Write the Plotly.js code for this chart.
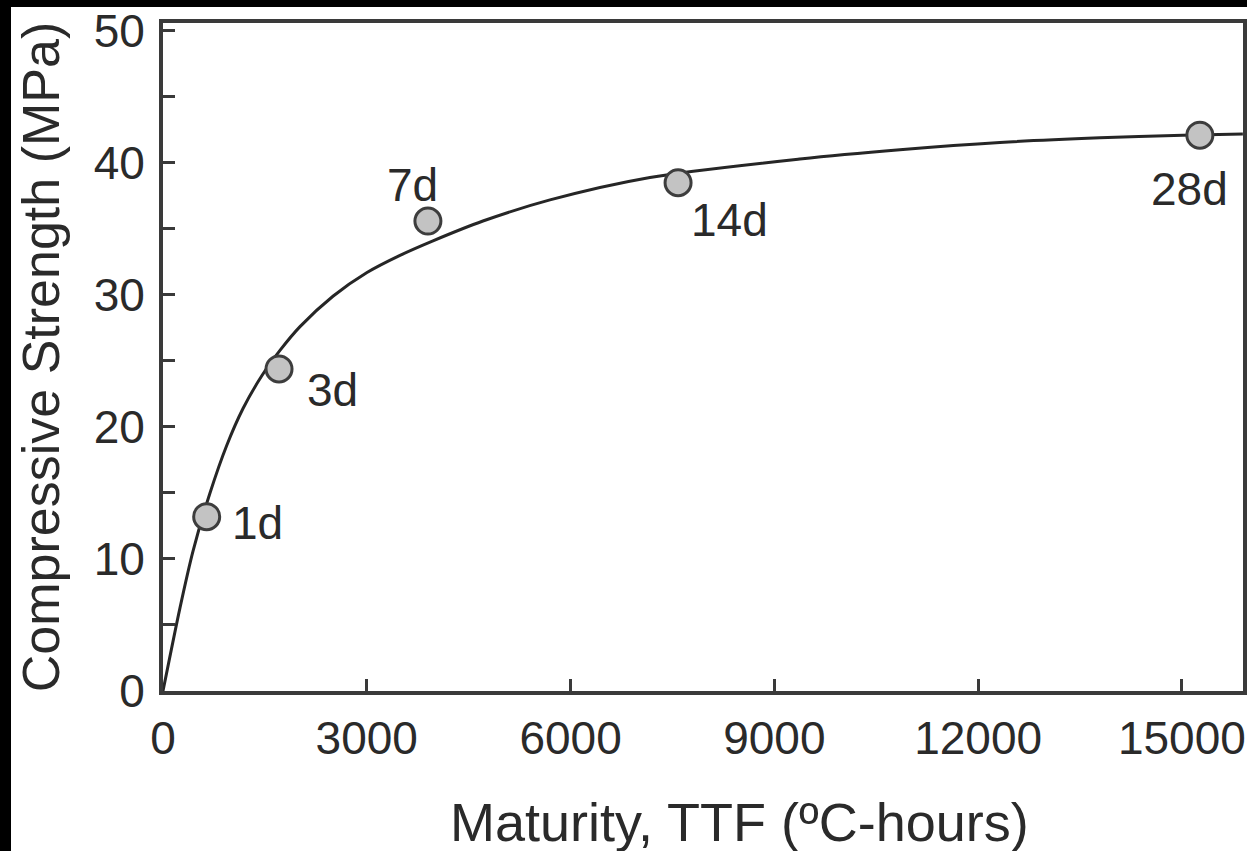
<!DOCTYPE html>
<html>
<head>
<meta charset="utf-8">
<script src="https://cdn.plot.ly/plotly-3.0.1.min.js"></script>
<style>
html,body{margin:0;padding:0;background:#000;width:1247px;height:851px;overflow:hidden;}
#chart{position:absolute;left:11px;top:0px;width:1236px;height:851px;background:#fff;}
</style>
</head>
<body>
<div id="chart"></div>
<script>
// Measured strength at test ages
const ageLabels = ["1d", "3d", "7d", "14d", "28d"];
const maturityPts = [643, 1708, 3900, 7583, 15265];
const strengthPts = [13.2, 24.4, 35.6, 38.5, 42.1];

// Fitted strength-maturity curve
const curveX = [0, 250, 442, 692, 938, 1178, 1457, 1722, 2017, 2502, 3003, 3489, 3975, 4710, 5697, 7169, 9377, 10849, 12321, 13793, 15015, 15898];
const curveY = [0, 6.3, 10.6, 15.0, 18.6, 21.4, 23.9, 25.8, 27.6, 29.9, 31.7, 33.0, 34.1, 35.6, 37.2, 38.9, 40.3, 41.0, 41.55, 41.9, 42.1, 42.2];

// Label positions for the age annotations
const labelX = [1398, 2488, 3680, 8346, 15117];
const labelY = [12.7, 22.8, 38.3, 35.7, 38.0];

const xTicks = [0, 3000, 6000, 9000, 12000, 15000];
const yTicks = [0, 10, 20, 30, 40, 50];

const xTitle = "Maturity, TTF (ºC-hours)";
const yTitle = "Compressive Strength (MPa)";

const FONT = "Liberation Sans, Arial, Helvetica, sans-serif";
const TXT = "#2a2a2a";

const traces = [
  {
    x: curveX, y: curveY, mode: "lines", type: "scatter",
    line: {color: "#262626", width: 3, shape: "spline", smoothing: 0.8},
    hoverinfo: "skip", showlegend: false
  },
  {
    x: maturityPts, y: strengthPts, mode: "markers", type: "scatter",
    marker: {size: 26, color: "#c3c3c3", line: {color: "#3d3d3d", width: 3}},
    showlegend: false
  }
];

const annotations = ageLabels.map((t, i) => ({
  x: labelX[i], y: labelY[i], xref: "x", yref: "y",
  text: t, showarrow: false, xanchor: "center", yanchor: "middle",
  font: {family: FONT, size: 46, color: TXT}
}));
annotations.push({
  x: 0.534, y: -0.196, xref: "paper", yref: "paper",
  text: xTitle, showarrow: false, xanchor: "center", yanchor: "middle",
  font: {family: FONT, size: 54, color: TXT}
});

const layout = {
  width: 1236, height: 851,
  paper_bgcolor: "#ffffff", plot_bgcolor: "#ffffff",
  margin: {l: 152, r: 4, t: 23, b: 160},
  showlegend: false,
  font: {family: FONT, color: TXT},
  xaxis: {
    range: [0, 15900], tickvals: xTicks, ticktext: xTicks.map(String),
    ticks: "inside", ticklen: 12, tickwidth: 3, tickcolor: "#3a3a3a",
    showline: true, linecolor: "#3a3a3a", linewidth: 4, mirror: true,
    showgrid: false, zeroline: false,
    tickfont: {family: FONT, size: 46, color: TXT},
    ticklabelstandoff: 4, ticklabeloverflow: "allow"
  },
  yaxis: {
    range: [0, 50.6], tickvals: yTicks, ticktext: yTicks.map(String),
    ticks: "inside", ticklen: 12, tickwidth: 3, tickcolor: "#3a3a3a",
    minor: {dtick: 5, tick0: 0, ticks: "inside", ticklen: 12, tickwidth: 3, tickcolor: "#3a3a3a", showgrid: false},
    showline: true, linecolor: "#3a3a3a", linewidth: 4, mirror: true,
    showgrid: false, zeroline: false,
    tickfont: {family: FONT, size: 46, color: TXT},
    ticklabelstandoff: 5, ticklabeloverflow: "allow",
    title: {text: yTitle, font: {family: FONT, size: 52, color: TXT}, standoff: 18}
  },
  shapes: [
    // black frame band along the top edge of the picture
    {type: "rect", xref: "paper", yref: "paper", layer: "below",
     x0: -0.2, x1: 1.1, y0: 1.0240, y1: 1.0500,
     fillcolor: "#000000", line: {width: 0}}
  ],
  annotations: annotations
};

Plotly.newPlot("chart", traces, layout, {displayModeBar: false, staticPlot: true});
</script>
</body>
</html>
